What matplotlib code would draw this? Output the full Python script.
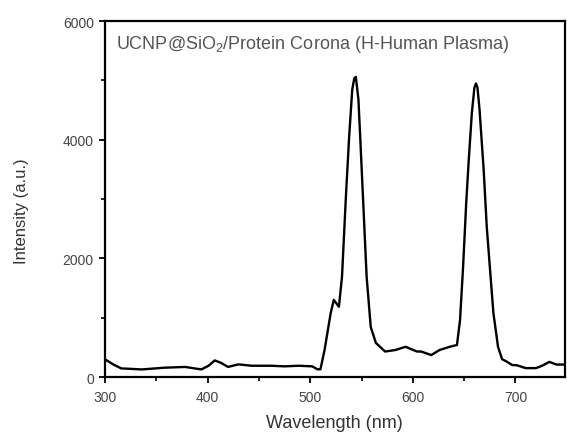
import matplotlib
matplotlib.use("Agg")
import matplotlib.pyplot as plt
from matplotlib.ticker import MultipleLocator

# Emission spectrum
wavelength = [300, 308, 316, 336, 358, 378, 394, 401, 407, 413, 420, 430, 443,
              462, 475, 489, 502, 507, 510, 514, 520, 523, 528, 531, 535, 538,
              541, 543, 544.5, 547, 549, 552, 555, 559, 564, 573, 583, 593,
              604, 608, 618, 626, 636, 643, 646, 649, 652, 654.5, 657.5, 660,
              661.5, 663, 665, 669, 672, 675.5, 678.5, 683, 687, 691.5, 697,
              701, 710, 716, 720, 726, 733, 740, 748]
intensity = [300, 213, 145, 128, 157, 170, 128, 190, 280, 240, 170, 213, 190,
             190, 180, 190, 180, 130, 130, 455, 1080, 1300, 1185, 1690, 3110,
             4060, 4850, 5040, 5060, 4680, 3950, 2820, 1690, 845, 575, 430, 455,
             510, 430, 430, 370, 455, 510, 540, 960, 1865, 2930, 3660, 4450,
             4880, 4950, 4880, 4510, 3500, 2540, 1750, 1080, 510, 300, 260, 200,
             200, 150, 150, 150, 190, 255, 210, 210]

title_text = "UCNP@SiO$_2$/Protein Corona (H-Human Plasma)"

plt.rcParams["font.family"] = ["Liberation Sans", "DejaVu Sans"]
plt.rcParams["mathtext.default"] = "regular"

fig = plt.figure(figsize=(5.67, 4.35), dpi=100)
ax = fig.add_axes([0.185, 0.131, 0.811, 0.818])

ax.plot(wavelength, intensity, color="black", lw=1.7)

ax.set_xlim(300, 748)
ax.set_ylim(0, 6000)
ax.xaxis.set_major_locator(MultipleLocator(100))
ax.xaxis.set_minor_locator(MultipleLocator(50))
ax.yaxis.set_major_locator(MultipleLocator(2000))
ax.yaxis.set_minor_locator(MultipleLocator(1000))

ax.tick_params(which="major", direction="out", length=4, width=1.3,
               labelsize=10, labelcolor="#444444")
ax.tick_params(axis="x", which="major", pad=5)
ax.tick_params(axis="y", which="major", pad=4)
ax.tick_params(which="minor", direction="out", length=3, width=1.2)
for side in ax.spines:
  ax.spines[side].set_linewidth(1.6)

ax.set_xlabel("Wavelength (nm)", fontsize=13, color="#333333")
ax.set_ylabel("Intensity (a.u.)", fontsize=12, color="#333333")
ax.xaxis.set_label_coords(0.5, -0.105)
ax.yaxis.set_label_coords(-0.165, 0.47)

ax.text(0.024, 0.966, title_text, transform=ax.transAxes, ha="left", va="top",
        fontsize=13, color="#555555")

fig.savefig("out.png", dpi=100)
